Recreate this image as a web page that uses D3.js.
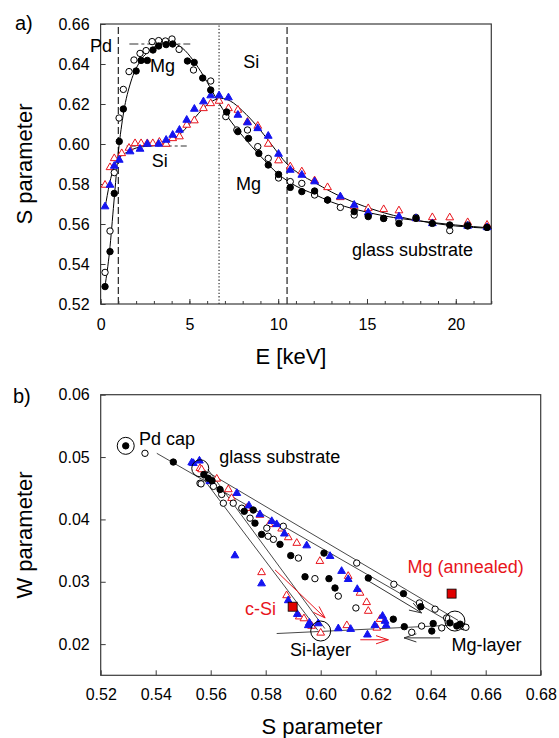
<!DOCTYPE html>
<html>
<head>
<meta charset="utf-8">
<script src="https://cdn.jsdelivr.net/npm/d3@7"></script>
<style>
  body { margin: 0; background: #fff; }
  svg text { font-family: 'Liberation Sans', Arial, Helvetica, sans-serif; }
</style>
</head>
<body>
<svg id="chart" width="559" height="738"></svg>
<script>
// ---- panel a : S parameter vs positron energy ----
const aTicksX = [0, 5, 10, 15, 20];
const aTicksY = [0.52, 0.54, 0.56, 0.58, 0.60, 0.62, 0.64, 0.66];

// [E keV, S]
const aFilledCirc = [[0.25,0.5287],[0.53,0.5462],[0.77,0.5753],[1.05,0.6013],[1.28,0.6175],[2.0,0.6365],[2.28,0.6418],[2.63,0.6418],[2.95,0.647],[3.27,0.649],[3.69,0.6497],[4.06,0.650],[4.89,0.6415],[5.27,0.6408],[5.75,0.633],[6.2,0.627],[7.1,0.616],[7.73,0.6062],[8.33,0.6028],[8.91,0.5953],[9.44,0.5895],[10.02,0.5848],[10.68,0.5783],[11.33,0.5762],[12.05,0.5765],[12.78,0.572],[14.28,0.5662],[15.07,0.5637],[15.94,0.5628],[16.8,0.5603],[17.76,0.5628],[18.68,0.5603],[19.66,0.5595],[20.67,0.559],[21.76,0.5583]];
const aOpenCirc = [[0.25,0.5358],[0.53,0.5565],[0.77,0.5857],[1.04,0.613],[1.28,0.6273],[1.6,0.6362],[1.88,0.642],[2.22,0.6453],[2.56,0.6467],[2.9,0.6512],[3.27,0.6517],[3.65,0.6515],[4.02,0.6525],[4.42,0.6473],[5.23,0.637],[6.2,0.6315],[7.05,0.6137],[7.67,0.607],[8.27,0.607],[8.85,0.5987],[9.44,0.5928],[10.02,0.583],[10.68,0.5812],[11.33,0.5803],[12.05,0.5745],[12.78,0.572],[13.5,0.5683],[14.28,0.5645],[15.07,0.5645],[15.94,0.5628],[16.8,0.562],[17.76,0.5633],[19.66,0.5567],[20.67,0.5595],[21.76,0.5583]];
const aBlueTri = [[0.25,0.5687],[0.53,0.5795],[0.77,0.589],[1.05,0.592],[1.66,0.5962],[2.22,0.5975],[2.63,0.600],[3.27,0.600],[3.69,0.602],[4.06,0.6045],[4.44,0.607],[4.85,0.612],[5.28,0.6175],[5.79,0.6212],[6.2,0.6242],[6.67,0.6242],[7.2,0.6232],[7.73,0.6145],[8.27,0.6107],[8.85,0.6078],[9.44,0.604],[10.02,0.595],[10.68,0.587],[11.33,0.5845],[12.05,0.5812],[13.5,0.5737],[14.28,0.5695],[15.07,0.5657],[16.8,0.5637],[17.76,0.5628],[18.68,0.5603],[20.67,0.559],[21.76,0.5583]];
const aRedTri = [[0.25,0.5795],[0.53,0.5883],[0.77,0.5928],[1.19,0.5953],[1.6,0.598],[1.94,0.6003],[2.28,0.6003],[2.63,0.6003],[2.94,0.6003],[3.31,0.601],[3.69,0.600],[4.06,0.6028],[4.44,0.6037],[4.85,0.6095],[5.28,0.6117],[5.79,0.6178],[6.2,0.6203],[6.67,0.6215],[7.2,0.6178],[7.73,0.617],[8.27,0.611],[8.85,0.609],[9.44,0.600],[10.02,0.5917],[10.68,0.5887],[11.33,0.5862],[12.05,0.5817],[12.78,0.5783],[13.5,0.5733],[14.28,0.5687],[15.07,0.5678],[15.94,0.5673],[16.8,0.5667],[17.76,0.5628],[18.68,0.5633],[19.66,0.5632],[20.67,0.5608],[21.76,0.5595]];

// fitted profiles
const aFitCirc = [[0.25,0.529],[0.5,0.546],[0.75,0.571],[1.0,0.596],[1.3,0.616],[1.7,0.631],[2.2,0.641],[2.8,0.647],[3.4,0.650],[4.0,0.6505],[4.6,0.648],[5.2,0.642],[5.8,0.634],[6.5,0.623],[7.2,0.613],[8.0,0.604],[9.0,0.594],[10.0,0.585],[11.0,0.579],[12.0,0.575],[13.0,0.571],[14.5,0.567],[16,0.564],[18,0.5615],[20,0.5595],[22,0.558]];
const aFitTri = [[0.25,0.568],[0.5,0.580],[0.77,0.589],[1.05,0.593],[1.5,0.596],[2.0,0.598],[2.7,0.599],[3.4,0.600],[4.0,0.602],[4.6,0.606],[5.2,0.612],[5.8,0.618],[6.3,0.6215],[6.8,0.6228],[7.3,0.6215],[8.0,0.6165],[8.8,0.609],[9.6,0.600],[10.5,0.590],[11.3,0.5845],[12.0,0.581],[13.0,0.576],[14.5,0.570],[16,0.5655],[18,0.5615],[20,0.559],[22,0.5578]];

const aLayerBounds = [1.0, 10.5];   // dashed
const aMidLine = [6.67];            // dotted
const aGuides = [[1.62, 5.05, 0.650], [1.47, 4.85, 0.599]];

// ---- panel b : W vs S ----
const bTicksX = [0.52, 0.54, 0.56, 0.58, 0.60, 0.62, 0.64, 0.66, 0.68];
const bTicksY = [0.02, 0.03, 0.04, 0.05, 0.06];

// [S, W]
const bFilledCirc = [[0.5291,0.0518],[0.5464,0.0492],[0.5575,0.0472],[0.5591,0.0466],[0.5605,0.0462],[0.5634,0.0448],[0.5722,0.0413],[0.5755,0.0415],[0.5761,0.0394],[0.5785,0.0376],[0.5852,0.0360],[0.5891,0.0342],[0.5943,0.0308],[0.6012,0.0346],[0.6030,0.0305],[0.6052,0.0290],[0.6173,0.0306],[0.6264,0.0240],[0.6301,0.0281],[0.6304,0.0228],[0.6364,0.0260],[0.6409,0.0233],[0.6404,0.0221],[0.6470,0.0234],[0.6495,0.0229],[0.6507,0.0232]];
const bOpenCirc = [[0.5361,0.0506],[0.5561,0.0458],[0.5565,0.0457],[0.5610,0.0453],[0.5640,0.0440],[0.5646,0.0426],[0.5682,0.0426],[0.5713,0.0418],[0.5743,0.0402],[0.5804,0.0386],[0.5809,0.0373],[0.5828,0.0368],[0.5864,0.0389],[0.5919,0.0338],[0.5979,0.0305],[0.6064,0.0277],[0.6128,0.0258],[0.6131,0.0330],[0.6266,0.0296],[0.6331,0.0219],[0.6359,0.0266],[0.6367,0.0229],[0.6416,0.0256],[0.6440,0.0226],[0.6458,0.0242],[0.6519,0.0228],[0.6528,0.0227]];
const bBlueTri = [[0.5531,0.0491],[0.5537,0.0490],[0.5559,0.0494],[0.5597,0.0461],[0.5695,0.0442],[0.5739,0.0422],[0.5779,0.0408],[0.5822,0.0397],[0.5840,0.0392],[0.5868,0.0377],[0.5949,0.0358],[0.5688,0.0342],[0.5785,0.0297],[0.5882,0.0270],[0.5915,0.0248],[0.5955,0.0230],[0.5959,0.0234],[0.5991,0.0233],[0.6034,0.0341],[0.6076,0.0317],[0.6100,0.0304],[0.6133,0.0288],[0.6064,0.0225],[0.6109,0.0224],[0.6170,0.0215],[0.6197,0.0230],[0.6225,0.0245],[0.6234,0.0237],[0.6238,0.0230]];
const bRedTri = [[0.5561,0.0482],[0.5567,0.0480],[0.5622,0.0465],[0.5664,0.0448],[0.5676,0.0434],[0.5731,0.0418],[0.5779,0.0407],[0.5813,0.0392],[0.5858,0.0385],[0.5882,0.0371],[0.5913,0.0362],[0.5785,0.0315],[0.5876,0.0278],[0.5922,0.0244],[0.5939,0.0241],[0.5967,0.0229],[0.6000,0.0218],[0.5997,0.0333],[0.6100,0.0309],[0.6143,0.0282],[0.6167,0.0267],[0.6173,0.0253],[0.6216,0.0240],[0.6204,0.0226],[0.6095,0.0230]];

const bRefSquares = [[0.5898,0.0260],[0.6476,0.0281]];   // c-Si, Mg (annealed)
const bRings = [[0.5291,0.0518],[0.5562,0.0482],[0.600,0.0221],[0.6488,0.0237]];
const bLines = [
  [[0.5404,0.0506],[0.6495,0.0229]],
  [[0.5565,0.0482],[0.6500,0.0238]],
  [[0.5565,0.0470],[0.5990,0.0222]],
  [[0.5590,0.0480],[0.6015,0.0225]],
  [[0.5840,0.0217],[0.6460,0.0230]]
];
const bArrowsBlack = [[[0.6175,0.0301],[0.6367,0.0250]], [[0.6434,0.0210],[0.6303,0.0210]]];
const bArrowsRed = [[[0.5834,0.0319],[0.6016,0.0242]], [[0.6144,0.0207],[0.6246,0.0207]]];

const RED = '#e8141c', BLUE = '#1414f0', AX = '#3a3a3a';

const svg = d3.select('#chart');

const xA = d3.scaleLinear().domain([0, 22]).range([100.6, 491.3]);
const yA = d3.scaleLinear().domain([0.52, 0.66]).range([304, 24]);
const xB = d3.scaleLinear().domain([0.52, 0.68]).range([100.7, 540.7]);
const yB = d3.scaleLinear().domain([0.015, 0.06]).range([675.3, 394.7]);

const tri = d3.symbol().type(d3.symbolTriangle).size(26);

function drawAxes(x, y, xt, yt, xfmt, yfmt, minorX, padX) {
  const g = svg.append('g');
  const [x0, x1] = x.range(), [y0, y1] = y.range();
  if (minorX) {
    g.append('g').attr('transform', `translate(0,${y0})`)
      .call(d3.axisBottom(x).tickValues(minorX).tickSizeInner(-3).tickSizeOuter(0).tickFormat(''));
  }
  g.append('g').attr('transform', `translate(0,${y0})`)
    .call(d3.axisBottom(x).tickValues(xt).tickSizeInner(-5).tickSizeOuter(0).tickPadding(padX).tickFormat(xfmt));
  g.append('g').attr('transform', `translate(${x0},0)`)
    .call(d3.axisLeft(y).tickValues(yt).tickSizeInner(-5).tickSizeOuter(0).tickPadding(11).tickFormat(yfmt));
  g.selectAll('.domain').remove();
  g.selectAll('.tick line').attr('stroke', AX);
  g.selectAll('text').attr('font-size', 16).attr('font-family', null).attr('fill', '#000');
  g.append('rect').attr('x', x0).attr('y', y1).attr('width', x1 - x0).attr('height', y0 - y1)
    .attr('fill', 'none').attr('stroke', AX).attr('stroke-width', 1.2);
}

function points(x, y, data, kind) {
  const g = svg.append('g');
  if (kind === 'filled' || kind === 'open') {
    g.selectAll('circle').data(data).join('circle')
      .attr('cx', d => x(d[0])).attr('cy', d => y(d[1])).attr('r', 3.2)
      .attr('fill', kind === 'filled' ? '#000' : '#fff')
      .attr('stroke', '#000').attr('stroke-width', 1);
  } else {
    g.selectAll('path').data(data).join('path')
      .attr('d', tri)
      .attr('transform', d => `translate(${x(d[0])},${y(d[1])})`)
      .attr('fill', kind === 'blue' ? BLUE : '#fff')
      .attr('stroke', kind === 'blue' ? BLUE : RED).attr('stroke-width', 1);
  }
}

function label(x, y, txt, px, py, size, color) {
  svg.append('text').attr('x', x(px)).attr('y', y(py)).attr('font-size', size)
    .attr('fill', color || '#000').text(txt);
}

// ================= panel a =================
drawAxes(xA, yA, aTicksX, aTicksY, d3.format('d'), d3.format('.2f'), d3.range(0, 23, 1), 14.6);

svg.append('g').selectAll('line').data(aLayerBounds).join('line')
  .attr('x1', d => xA(d)).attr('x2', d => xA(d)).attr('y1', yA(0.52)).attr('y2', yA(0.66))
  .attr('stroke', '#333').attr('stroke-width', 1.3).attr('stroke-dasharray', '7,3');
svg.append('g').selectAll('line').data(aMidLine).join('line')
  .attr('x1', d => xA(d)).attr('x2', d => xA(d)).attr('y1', yA(0.52)).attr('y2', yA(0.66))
  .attr('stroke', '#333').attr('stroke-width', 1.2).attr('stroke-dasharray', '1.3,2');
svg.append('g').selectAll('line').data(aGuides).join('line')
  .attr('x1', d => xA(d[0])).attr('x2', d => xA(d[1])).attr('y1', d => yA(d[2])).attr('y2', d => yA(d[2]))
  .attr('stroke', '#333').attr('stroke-width', 1.1).attr('stroke-dasharray', '9,3,3,3');

const fitLine = d3.line().x(d => xA(d[0])).y(d => yA(d[1])).curve(d3.curveMonotoneX);
[aFitCirc, aFitTri].forEach(f => {
  svg.append('path').attr('d', fitLine(f)).attr('fill', 'none').attr('stroke', '#000').attr('stroke-width', 1);
});

points(xA, yA, aRedTri, 'red');
points(xA, yA, aOpenCirc, 'open');
points(xA, yA, aBlueTri, 'blue');
points(xA, yA, aFilledCirc, 'filled');

svg.append('text').attr('x', xA(0.64)).attr('y', yA(0.646)).attr('font-size', 18)
  .attr('text-anchor', 'end').text('Pd');
label(xA, yA, 'Mg', 2.78, 0.636, 18);
label(xA, yA, 'Si', 8.03, 0.638, 18);
label(xA, yA, 'Si', 2.88, 0.5887, 18);
label(xA, yA, 'Mg', 7.63, 0.577, 18);
label(xA, yA, 'glass substrate', 14.15, 0.544, 18);

svg.append('text').attr('x', 15).attr('y', 30).attr('font-size', 20).text('a)');
svg.append('text').attr('transform', 'translate(32,164) rotate(-90)').attr('text-anchor', 'middle')
  .attr('font-size', 22).text('S parameter');
svg.append('text').attr('x', 291).attr('y', 364).attr('text-anchor', 'middle')
  .attr('font-size', 22).text('E [keV]');

// ================= panel b =================
drawAxes(xB, yB, bTicksX, bTicksY, d3.format('.2f'), d3.format('.2f'), null, 13.3);

svg.append('g').selectAll('line').data(bLines).join('line')
  .attr('x1', d => xB(d[0][0])).attr('y1', d => yB(d[0][1]))
  .attr('x2', d => xB(d[1][0])).attr('y2', d => yB(d[1][1]))
  .attr('stroke', '#333').attr('stroke-width', 0.9);

function arrow(d, color) {
  const x0 = xB(d[0][0]), y0 = yB(d[0][1]), x1 = xB(d[1][0]), y1 = yB(d[1][1]);
  const ang = Math.atan2(y1 - y0, x1 - x0), L = 13, h = 0.32;
  svg.append('line').attr('x1', x0).attr('y1', y0).attr('x2', x1).attr('y2', y1)
    .attr('stroke', color).attr('stroke-width', 1);
  svg.append('path')
    .attr('d', `M${x1 - L * Math.cos(ang - h)},${y1 - L * Math.sin(ang - h)}L${x1},${y1}L${x1 - L * Math.cos(ang + h)},${y1 - L * Math.sin(ang + h)}`)
    .attr('fill', 'none').attr('stroke', color).attr('stroke-width', 1);
}
bArrowsBlack.forEach(d => arrow(d, '#333'));
bArrowsRed.forEach(d => arrow(d, RED));

points(xB, yB, bRedTri, 'red');
points(xB, yB, bOpenCirc, 'open');
points(xB, yB, bBlueTri, 'blue');
points(xB, yB, bFilledCirc, 'filled');

svg.append('g').selectAll('circle').data(bRings).join('circle')
  .attr('cx', d => xB(d[0])).attr('cy', d => yB(d[1]))
  .attr('r', (d, i) => i < 2 ? 8.5 : 10)
  .attr('fill', 'none').attr('stroke', '#000').attr('stroke-width', 1);

svg.append('g').selectAll('rect').data(bRefSquares).join('rect')
  .attr('x', d => xB(d[0]) - 4.5).attr('y', d => yB(d[1]) - 4.5)
  .attr('width', 9).attr('height', 9)
  .attr('fill', '#e00000').attr('stroke', '#000').attr('stroke-width', 0.8);

label(xB, yB, 'Pd cap', 0.5339, 0.05195, 18);
label(xB, yB, 'glass substrate', 0.5631, 0.04902, 18);
label(xB, yB, 'Mg (annealed)', 0.6316, 0.03142, 18, RED);
label(xB, yB, 'c-Si', 0.5725, 0.02475, 18, RED);
label(xB, yB, 'Si-layer', 0.5888, 0.01808, 18);
label(xB, yB, 'Mg-layer', 0.6476, 0.01888, 18);

svg.append('text').attr('x', 13).attr('y', 403).attr('font-size', 20).text('b)');
svg.append('text').attr('transform', 'translate(32,535) rotate(-90)').attr('text-anchor', 'middle')
  .attr('font-size', 22).text('W parameter');
svg.append('text').attr('x', 322).attr('y', 734).attr('text-anchor', 'middle')
  .attr('font-size', 22).text('S parameter');
</script>
</body>
</html>
